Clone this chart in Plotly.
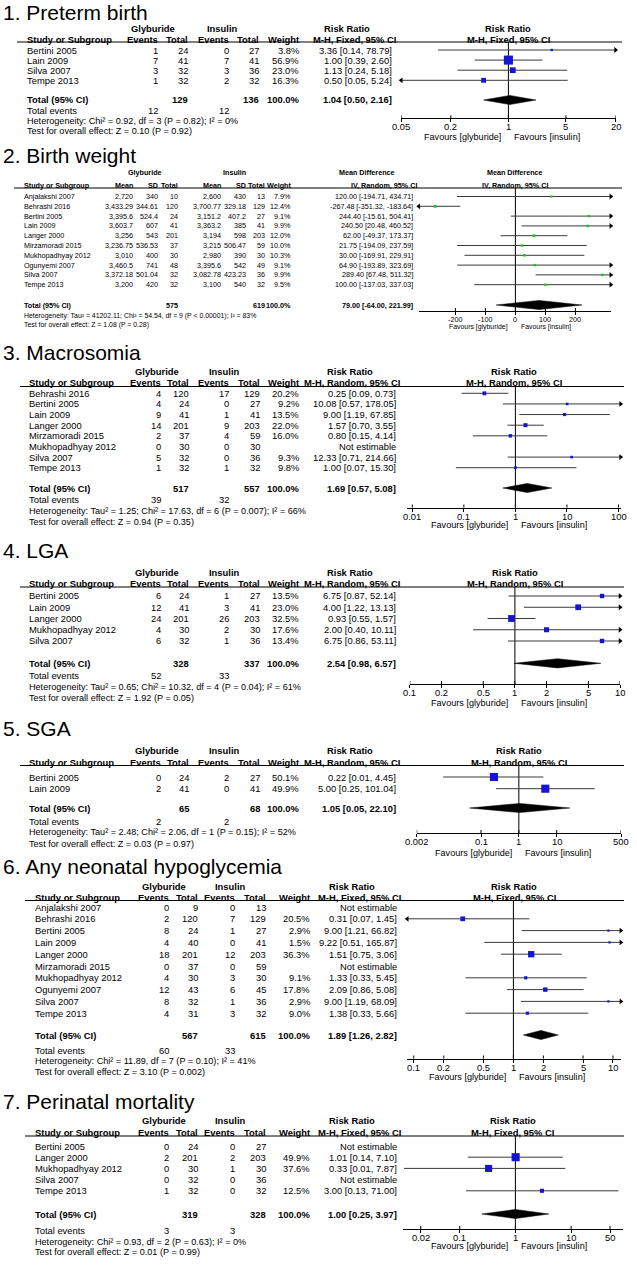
import math
import plotly.graph_objects as go

W, H = 637, 1267
FONT = "Arial, 'Liberation Sans', Helvetica, sans-serif"

# ---------------- DATA ----------------
# 1. Preterm birth (Risk Ratio, M-H Fixed)
pt_study = ["Bertini 2005", "Lain 2009", "Silva 2007", "Tempe 2013"]
pt_g_events = [1, 7, 3, 1]
pt_g_total = [24, 41, 32, 32]
pt_i_events = [0, 7, 3, 2]
pt_i_total = [27, 41, 36, 32]
pt_weight = [3.8, 56.9, 23.0, 16.3]
pt_est = [3.36, 1.00, 1.13, 0.50]
pt_lo = [0.14, 0.39, 0.24, 0.05]
pt_hi = [78.79, 2.60, 5.18, 5.24]
pt_n = [129, 136]
pt_pooled = [1.04, 0.50, 2.16]
pt_events = [12, 12]
pt_het = "Heterogeneity: Chi² = 0.92, df = 3 (P = 0.82); I² = 0%"
pt_test = "Test for overall effect: Z = 0.10 (P = 0.92)"
pt_ticks = [0.05, 0.2, 1, 5, 20]

# 2. Birth weight (Mean Difference, IV Random)
bw_study = ["Anjalakshi 2007", "Behrashi 2016", "Bertini 2005", "Lain 2009", "Langer 2000",
            "Mirzamoradi 2015", "Mukhopadhyay 2012", "Ogunyemi 2007", "Silva 2007", "Tempe 2013"]
bw_g_mean = [2720, 3433.29, 3395.6, 3603.7, 3256, 3236.75, 3010, 3460.5, 3372.18, 3200]
bw_g_sd = [340, 344.61, 524.4, 607, 543, 536.53, 400, 741, 501.04, 420]
bw_g_total = [10, 120, 24, 41, 201, 37, 30, 48, 32, 32]
bw_i_mean = [2600, 3700.77, 3151.2, 3363.2, 3194, 3215, 2980, 3395.6, 3082.78, 3100]
bw_i_sd = [430, 329.18, 407.2, 385, 598, 506.47, 390, 542, 423.23, 540]
bw_i_total = [13, 129, 27, 41, 203, 59, 30, 49, 36, 32]
bw_weight = [7.9, 12.4, 9.1, 9.9, 12.0, 10.0, 10.3, 9.1, 9.9, 9.5]
bw_est = [120.00, -267.48, 244.40, 240.50, 62.00, 21.75, 30.00, 64.90, 289.40, 100.00]
bw_lo = [-194.71, -351.32, -15.61, 20.48, -49.37, -194.09, -169.91, -193.89, 67.48, -137.03]
bw_hi = [434.71, -183.64, 504.41, 460.52, 173.37, 237.59, 229.91, 323.69, 511.32, 337.03]
bw_n = [575, 619]
bw_pooled = [79.00, -64.00, 221.99]
bw_het = "Heterogeneity: Tau² = 41202.11; Chi² = 54.54, df = 9 (P < 0.00001); I² = 83%"
bw_test = "Test for overall effect: Z = 1.08 (P = 0.28)"
bw_ticks = [-200, -100, 0, 100, 200]

# 3. Macrosomia (Risk Ratio, M-H Random)
ma_study = ["Behrashi 2016", "Bertini 2005", "Lain 2009", "Langer 2000", "Mirzamoradi 2015",
            "Mukhopadhyay 2012", "Silva 2007", "Tempe 2013"]
ma_g_events = [4, 4, 9, 14, 2, 0, 5, 1]
ma_g_total = [120, 24, 41, 201, 37, 30, 32, 32]
ma_i_events = [17, 0, 1, 9, 4, 0, 0, 1]
ma_i_total = [129, 27, 41, 203, 59, 30, 36, 32]
ma_weight = [20.2, 9.2, 13.5, 22.0, 16.0, None, 9.3, 9.8]
ma_est = [0.25, 10.08, 9.00, 1.57, 0.80, None, 12.33, 1.00]
ma_lo = [0.09, 0.57, 1.19, 0.70, 0.15, None, 0.71, 0.07]
ma_hi = [0.73, 178.05, 67.85, 3.55, 4.14, None, 214.66, 15.30]
ma_n = [517, 557]
ma_pooled = [1.69, 0.57, 5.08]
ma_events = [39, 32]
ma_het = "Heterogeneity: Tau² = 1.25; Chi² = 17.63, df = 6 (P = 0.007); I² = 66%"
ma_test = "Test for overall effect: Z = 0.94 (P = 0.35)"
ma_ticks = [0.01, 0.1, 1, 10, 100]

# 4. LGA (Risk Ratio, M-H Random)
lg_study = ["Bertini 2005", "Lain 2009", "Langer 2000", "Mukhopadhyay 2012", "Silva 2007"]
lg_g_events = [6, 12, 24, 4, 6]
lg_g_total = [24, 41, 201, 30, 32]
lg_i_events = [1, 3, 26, 2, 1]
lg_i_total = [27, 41, 203, 30, 36]
lg_weight = [13.5, 23.0, 32.5, 17.6, 13.4]
lg_est = [6.75, 4.00, 0.93, 2.00, 6.75]
lg_lo = [0.87, 1.22, 0.55, 0.40, 0.86]
lg_hi = [52.14, 13.13, 1.57, 10.11, 53.11]
lg_n = [328, 337]
lg_pooled = [2.54, 0.98, 6.57]
lg_events = [52, 33]
lg_het = "Heterogeneity: Tau² = 0.65; Chi² = 10.32, df = 4 (P = 0.04); I² = 61%"
lg_test = "Test for overall effect: Z = 1.92 (P = 0.05)"
lg_ticks = [0.1, 0.2, 0.5, 1, 2, 5, 10]

# 5. SGA (Risk Ratio, M-H Random)
sg_study = ["Bertini 2005", "Lain 2009"]
sg_g_events = [0, 2]
sg_g_total = [24, 41]
sg_i_events = [2, 0]
sg_i_total = [27, 41]
sg_weight = [50.1, 49.9]
sg_est = [0.22, 5.00]
sg_lo = [0.01, 0.25]
sg_hi = [4.45, 101.04]
sg_n = [65, 68]
sg_pooled = [1.05, 0.05, 22.10]
sg_events = [2, 2]
sg_het = "Heterogeneity: Tau² = 2.48; Chi² = 2.06, df = 1 (P = 0.15); I² = 52%"
sg_test = "Test for overall effect: Z = 0.03 (P = 0.97)"
sg_ticks = [0.002, 0.1, 1, 10, 500]

# 6. Any neonatal hypoglycemia (Risk Ratio, M-H Fixed)
hy_study = ["Anjalakshi 2007", "Behrashi 2016", "Bertini 2005", "Lain 2009", "Langer 2000",
            "Mirzamoradi 2015", "Mukhopadhyay 2012", "Ogunyemi 2007", "Silva 2007", "Tempe 2013"]
hy_g_events = [0, 2, 8, 4, 18, 0, 4, 12, 8, 4]
hy_g_total = [9, 120, 24, 40, 201, 37, 30, 43, 32, 31]
hy_i_events = [0, 7, 1, 0, 12, 0, 3, 6, 1, 3]
hy_i_total = [13, 129, 27, 41, 203, 59, 30, 45, 36, 32]
hy_weight = [None, 20.5, 2.9, 1.5, 36.3, None, 9.1, 17.8, 2.9, 9.0]
hy_est = [None, 0.31, 9.00, 9.22, 1.51, None, 1.33, 2.09, 9.00, 1.38]
hy_lo = [None, 0.07, 1.21, 0.51, 0.75, None, 0.33, 0.86, 1.19, 0.33]
hy_hi = [None, 1.45, 66.82, 165.87, 3.06, None, 5.45, 5.08, 68.09, 5.66]
hy_n = [567, 615]
hy_pooled = [1.89, 1.26, 2.82]
hy_events = [60, 33]
hy_het = "Heterogeneity: Chi² = 11.89, df = 7 (P = 0.10); I² = 41%"
hy_test = "Test for overall effect: Z = 3.10 (P = 0.002)"
hy_ticks = [0.1, 0.2, 0.5, 1, 2, 5, 10]

# 7. Perinatal mortality (Risk Ratio, M-H Fixed)
pm_study = ["Bertini 2005", "Langer 2000", "Mukhopadhyay 2012", "Silva 2007", "Tempe 2013"]
pm_g_events = [0, 2, 0, 0, 1]
pm_g_total = [24, 201, 30, 32, 32]
pm_i_events = [0, 2, 1, 0, 0]
pm_i_total = [27, 203, 30, 36, 32]
pm_weight = [None, 49.9, 37.6, None, 12.5]
pm_est = [None, 1.01, 0.33, None, 3.00]
pm_lo = [None, 0.14, 0.01, None, 0.13]
pm_hi = [None, 7.10, 7.87, None, 71.00]
pm_n = [319, 328]
pm_pooled = [1.00, 0.25, 3.97]
pm_events = [3, 3]
pm_het = "Heterogeneity: Chi² = 0.93, df = 2 (P = 0.63); I² = 0%"
pm_test = "Test for overall effect: Z = 0.01 (P = 0.99)"
pm_ticks = [0.02, 0.1, 1, 10, 50]

# ---------------- PANELS ----------------
panels = [
    dict(title="1. Preterm birth", kind="rr", measure="Risk Ratio", method="M-H, Fixed, 95% CI",
         study=pt_study, cols=[pt_g_events, pt_g_total, pt_i_events, pt_i_total], w=pt_weight,
         est=pt_est, lo=pt_lo, hi=pt_hi, n=pt_n, pooled=pt_pooled, ev=pt_events,
         het=pt_het, test=pt_test, ticks=pt_ticks),
    dict(title="2. Birth weight", kind="md", measure="Mean Difference", method="IV, Random, 95% CI",
         study=bw_study, cols=[bw_g_mean, bw_g_sd, bw_g_total, bw_i_mean, bw_i_sd, bw_i_total], w=bw_weight,
         est=bw_est, lo=bw_lo, hi=bw_hi, n=bw_n, pooled=bw_pooled, ev=None,
         het=bw_het, test=bw_test, ticks=bw_ticks),
    dict(title="3. Macrosomia", kind="rr", measure="Risk Ratio", method="M-H, Random, 95% CI",
         study=ma_study, cols=[ma_g_events, ma_g_total, ma_i_events, ma_i_total], w=ma_weight,
         est=ma_est, lo=ma_lo, hi=ma_hi, n=ma_n, pooled=ma_pooled, ev=ma_events,
         het=ma_het, test=ma_test, ticks=ma_ticks),
    dict(title="4. LGA", kind="rr", measure="Risk Ratio", method="M-H, Random, 95% CI",
         study=lg_study, cols=[lg_g_events, lg_g_total, lg_i_events, lg_i_total], w=lg_weight,
         est=lg_est, lo=lg_lo, hi=lg_hi, n=lg_n, pooled=lg_pooled, ev=lg_events,
         het=lg_het, test=lg_test, ticks=lg_ticks),
    dict(title="5. SGA", kind="rr", measure="Risk Ratio", method="M-H, Random, 95% CI",
         study=sg_study, cols=[sg_g_events, sg_g_total, sg_i_events, sg_i_total], w=sg_weight,
         est=sg_est, lo=sg_lo, hi=sg_hi, n=sg_n, pooled=sg_pooled, ev=sg_events,
         het=sg_het, test=sg_test, ticks=sg_ticks),
    dict(title="6. Any neonatal hypoglycemia", kind="rr", measure="Risk Ratio", method="M-H, Fixed, 95% CI",
         study=hy_study, cols=[hy_g_events, hy_g_total, hy_i_events, hy_i_total], w=hy_weight,
         est=hy_est, lo=hy_lo, hi=hy_hi, n=hy_n, pooled=hy_pooled, ev=hy_events,
         het=hy_het, test=hy_test, ticks=hy_ticks),
    dict(title="7. Perinatal mortality", kind="rr", measure="Risk Ratio", method="M-H, Fixed, 95% CI",
         study=pm_study, cols=[pm_g_events, pm_g_total, pm_i_events, pm_i_total], w=pm_weight,
         est=pm_est, lo=pm_lo, hi=pm_hi, n=pm_n, pooled=pm_pooled, ev=pm_events,
         het=pm_het, test=pm_test, ticks=pm_ticks),
]

# ---------------- LAYOUT (pixel geometry per panel) ----------------
RRX = dict(name=28.3, colx=[162, 190, 230, 261, 300], rr=397, c_g=157, c_i=224, c_m=350, ul_x=(20, 624))
RRX6 = dict(name=34, colx=[170, 198.5, 236, 267, 311], rr=398, c_g=164, c_i=230, c_m=352, ul_x=(25, 624))
geo = [
    dict(fs=9.4, title=12, hdr1=28.5, hdr2=39, ul=42, row0=50, rowh=10.1, total=100, tev=111, het=121, test=131,
         axis=118.3, fav=136.5, name=26, colx=[159, 189, 230, 260, 300], rr=393, c_g=153, c_i=222, c_m=347,
         ul_x=(17, 622), center=508.4, scale=82.36, rng=(0.05, 20), msize=1.2, color="#1414d2"),
    dict(fs=7.2, title=155, hdr1=172, hdr2=185, ul=188, row0=196.5, rowh=9.8, total=305, tev=None, het=315.5, test=325,
         axis=311, fav=326.5, name=22.7, colx=[134, 159, 179, 222, 247, 266, 292], rr=414, c_g=145, c_i=235, c_m=367,
         ul_x=(14, 622), center=515.4, scale=0.30, rng=(-322, 318), msize=0.8, color="#22c322"),
    dict(fs=9.4, title=352, hdr1=372, hdr2=383, ul=386.5, row0=393.3, rowh=10.63, total=488, tev=500, het=510.5, test=521.5,
         axis=507.5, fav=525, center=515.4, scale=51.55, rng=(0.008, 110), msize=0.85, color="#1414d2", **RRX),
    dict(fs=9.4, title=550, hdr1=572, hdr2=583.5, ul=587, row0=596, rowh=11.25, total=663.3, tev=675.7, het=686.7, test=698.3,
         axis=684, fav=702.5, center=514.9, scale=105.1, rng=(0.1, 10), msize=1.2, color="#1414d2", **RRX),
    dict(fs=9.4, title=728.5, hdr1=750, hdr2=762, ul=765.5, row0=777, rowh=11.7, total=808, tev=821, het=832, test=844,
         axis=833, fav=852.5, center=518.85, scale=37.85, rng=(0.002, 500), msize=1.15, color="#1414d2", **RRX),
    dict(fs=9.4, title=866, hdr1=886, hdr2=897, ul=900.5, row0=907, rowh=11.8, total=1035, tev=1050, het=1061, test=1072,
         axis=1058.5, fav=1077, center=513.4, scale=99.6, rng=(0.086, 12), msize=1.05, color="#1414d2", **RRX6),
    dict(fs=9.4, title=1101, hdr1=1120.5, hdr2=1132.5, ul=1136, row0=1146, rowh=11.2, total=1214, tev=1230, het=1241.5,
         test=1252, axis=1229, fav=1246, center=515.4, scale=55.7, rng=(0.0095, 85), msize=1.15, color="#1414d2", **RRX6),
]

def X(px):
    return px / W

def Y(py):
    return 1 - py / H

fig = go.Figure()
ann = []
shapes = []

def text(x, y, s, anchor="left", size=9.4, bold=False, xref="paper"):
    ann.append(dict(x=X(x) if xref == "paper" else x, y=Y(y), xref=xref, yref="paper",
                    text=("<b>%s</b>" % s) if bold else s, showarrow=False,
                    xanchor=anchor, yanchor="middle", borderpad=0,
                    font=dict(family=FONT, size=size, color="#000")))

def fmt_num(v):
    return f"{v:,}"

def fmt_ci(e, l, h):
    return f"{e:.2f} [{l:.2f}, {h:.2f}]"

for k, (P, G) in enumerate(zip(panels, geo), start=1):
    fs = G["fs"]
    fsn = fs - 0.3  # footnote size
    islog = P["kind"] == "rr"
    xa = "xaxis" if k == 1 else f"xaxis{k}"
    ya = "yaxis" if k == 1 else f"yaxis{k}"
    xr = "x" if k == 1 else f"x{k}"
    yr = "y" if k == 1 else f"y{k}"
    null = 1 if islog else 0

    def px_of(v):
        return G["center"] + (math.log10(v) if islog else v) * G["scale"]

    x_lo, x_hi = G["rng"]
    fx0, fx1 = px_of(x_lo), px_of(x_hi)
    fcenter = (fx0 + fx1) / 2

    # title
    text(1.5, G["title"], P["title"], "left", 21)

    # headers
    text(G["c_g"], G["hdr1"], "Glyburide", "center", fs, True)
    text(G["c_i"], G["hdr1"], "Insulin", "center", fs, True)
    text(G["c_m"], G["hdr1"], P["measure"], "center", fs, True)
    text(fcenter, G["hdr1"], P["measure"], "center", fs, True)
    text(G["name"], G["hdr2"], "Study or Subgroup", "left", fs, True)
    if P["kind"] == "rr":
        sub = ["Events", "Total", "Events", "Total", "Weight"]
    else:
        sub = ["Mean", "SD", "Total", "Mean", "SD", "Total", "Weight"]
    for lab, cx in zip(sub, G["colx"]):
        text(cx, G["hdr2"], lab, "right", fs, True)
    text(G["rr"] + 4, G["hdr2"], P["method"], "right", fs, True)
    text(fcenter, G["hdr2"], P["method"], "center", fs, True)
    shapes.append(dict(type="line", xref="paper", yref="paper", x0=X(G["ul_x"][0]), x1=X(G["ul_x"][1]),
                       y0=Y(G["ul"]), y1=Y(G["ul"]), line=dict(color="#000", width=1)))

    # study rows
    n = len(P["study"])
    for i in range(n):
        y = G["row0"] + i * G["rowh"]
        text(G["name"], y, P["study"][i], "left", fs)
        for col, cx in zip(P["cols"], G["colx"][:-1]):
            text(cx, y, fmt_num(col[i]), "right", fs)
        if P["w"][i] is not None:
            text(G["colx"][-1], y, f"{P['w'][i]:.1f}%", "right", fs)
        if P["est"][i] is not None:
            text(G["rr"], y, fmt_ci(P["est"][i], P["lo"][i], P["hi"][i]), "right", fs)
        else:
            text(G["rr"], y, "Not estimable", "right", fs)

    # totals
    text(G["name"], G["total"], "Total (95% CI)", "left", fs, True)
    text(G["colx"][1 if islog else 2], G["total"], str(P["n"][0]), "right", fs, True)
    text(G["colx"][3 if islog else 5], G["total"], str(P["n"][1]), "right", fs, True)
    text(G["colx"][-1], G["total"], "100.0%", "right", fs, True)
    text(G["rr"], G["total"], fmt_ci(*P["pooled"]), "right", fs, True)
    if P["ev"] is not None:
        text(G["name"], G["tev"], "Total events", "left", fs)
        text(G["colx"][0], G["tev"], str(P["ev"][0]), "right", fs)
        text(G["colx"][2], G["tev"], str(P["ev"][1]), "right", fs)
    text(G["name"], G["het"], P["het"], "left", fsn)
    text(G["name"], G["test"], P["test"], "left", fsn)

    # favours
    text(G["center"] - 6, G["fav"], "Favours [glyburide]", "right", fsn)
    text(G["center"] + 5, G["fav"], "Favours [insulin]", "left", fsn)

    # ---- forest axes ----
    rowh = G["rowh"]
    r_of = lambda py: (py - G["row0"]) / rowh
    r_top = r_of(G["ul"])
    r_axis = r_of(G["axis"])
    r_bot = r_of(G["axis"] + 8)
    r_tot = r_of(G["total"])

    fig.layout[xa] = dict(domain=[X(fx0), X(fx1)],
                          range=[math.log10(x_lo), math.log10(x_hi)] if islog else [x_lo, x_hi],
                          type="log" if islog else "linear", anchor="free", position=Y(G["axis"]),
                          showline=True, linecolor="#000", linewidth=1, ticks="outside", ticklen=3,
                          tickwidth=1, tickcolor="#000", tickvals=P["ticks"], showticklabels=False,
                          showgrid=False, zeroline=False, fixedrange=True)
    fig.layout[ya] = dict(domain=[Y(G["axis"] + 8), Y(G["ul"])], range=[r_bot, r_top], visible=False,
                          anchor=xr, showgrid=False, zeroline=False, fixedrange=True)

    # tick labels placed through the panel's own x axis
    for t in P["ticks"]:
        text(math.log10(t) if islog else t, G["axis"] + 8.5, f"{t:g}", "center", fs, xref=xr)

    # tick crosses (upper part)
    tx, ty = [], []
    for t in P["ticks"]:
        tx += [t, t, None]
        ty += [r_axis, r_axis - 3 / rowh, None]
    fig.add_trace(go.Scatter(x=tx, y=ty, xaxis=xr, yaxis=yr, mode="lines",
                             line=dict(color="#000", width=1), hoverinfo="skip", showlegend=False))
    # null line
    fig.add_trace(go.Scatter(x=[null, null], y=[r_top, r_axis], xaxis=xr, yaxis=yr, mode="lines",
                             line=dict(color="#000", width=1), hoverinfo="skip", showlegend=False))

    # CI lines, arrows, squares
    for i in range(n):
        if P["est"][i] is None:
            continue
        lo, hi = P["lo"][i], P["hi"][i]
        lo_c = max(lo, x_lo)
        hi_c = min(hi, x_hi)
        fig.add_trace(go.Scatter(x=[lo_c, hi_c], y=[i, i], xaxis=xr, yaxis=yr, mode="lines",
                                 line=dict(color="#3a3a3a", width=1), hoverinfo="skip", showlegend=False))
        if lo <= x_lo * (1.001 if islog else 1):
            fig.add_trace(go.Scatter(x=[x_lo], y=[i], xaxis=xr, yaxis=yr, mode="markers", cliponaxis=False,
                                     marker=dict(symbol="triangle-left", size=5, color="#000"),
                                     hoverinfo="skip", showlegend=False))
        if hi >= x_hi:
            fig.add_trace(go.Scatter(x=[x_hi], y=[i], xaxis=xr, yaxis=yr, mode="markers", cliponaxis=False,
                                     marker=dict(symbol="triangle-right", size=5, color="#000"),
                                     hoverinfo="skip", showlegend=False))
        fig.add_trace(go.Scatter(x=[P["est"][i]], y=[i], xaxis=xr, yaxis=yr, mode="markers", cliponaxis=False,
                                 marker=dict(symbol="square", size=max(2.2, G["msize"] * math.sqrt(P["w"][i])),
                                             color=G["color"], line=dict(width=0)),
                                 hoverinfo="skip", showlegend=False))

    # pooled diamond
    pe, pl, ph = P["pooled"]
    d = 4.6 / rowh
    fig.add_trace(go.Scatter(x=[pl, pe, ph, pe, pl], y=[r_tot, r_tot - d, r_tot, r_tot + d, r_tot],
                             xaxis=xr, yaxis=yr, mode="lines", fill="toself", fillcolor="#000",
                             line=dict(color="#000", width=0.5), hoverinfo="skip", showlegend=False))

fig.update_layout(width=W, height=H, margin=dict(l=0, r=0, t=0, b=0),
                  paper_bgcolor="#fff", plot_bgcolor="rgba(0,0,0,0)", showlegend=False,
                  annotations=ann, shapes=shapes, font=dict(family=FONT))
fig.write_html("out.html", config={"displayModeBar": False, "staticPlot": True},
               post_script="document.body.style.margin='0px';document.body.style.overflow='hidden';")
